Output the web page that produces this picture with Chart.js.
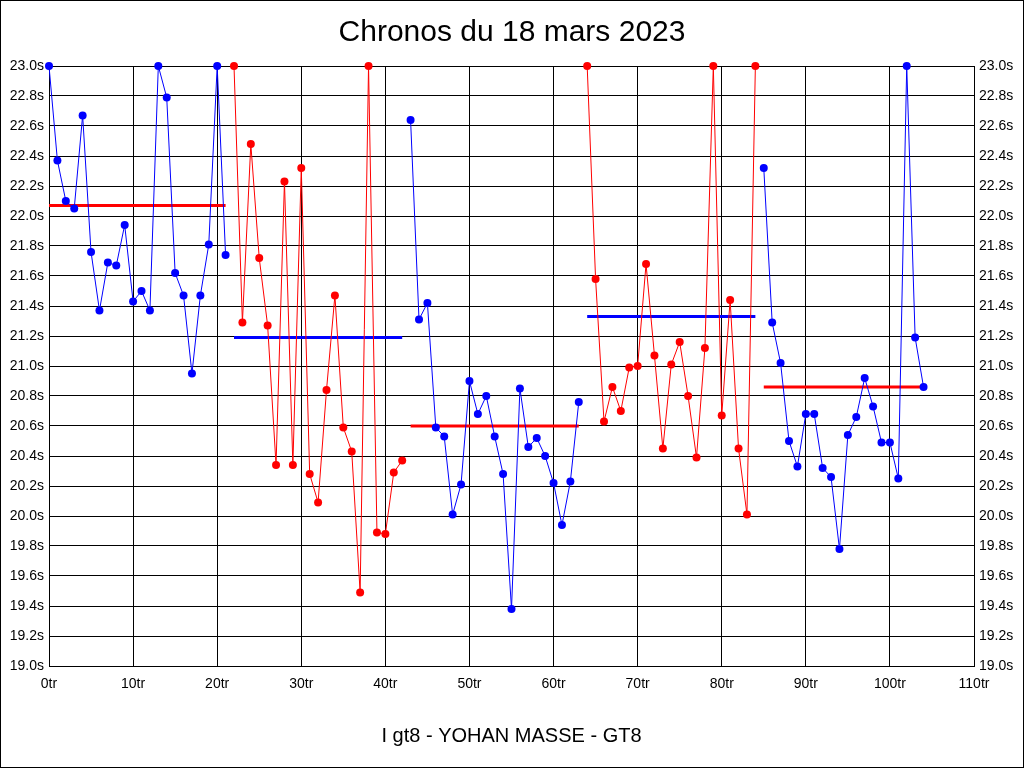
<!DOCTYPE html>
<html>
<head>
<meta charset="utf-8">
<title>Chronos du 18 mars 2023</title>
<script src="https://cdn.jsdelivr.net/npm/chart.js@4.4.1/dist/chart.umd.min.js"></script>
<style>
    html, body { margin: 0; padding: 0; background: #fff; }
    #frame { width: 1022px; height: 766px; border: 1px solid #000; }
</style>
</head>
<body>
<div id="frame"><canvas id="chronos" width="1022" height="766"></canvas></div>
<script>
// Lap times (seconds), one array per stint
const stintStartLaps = [0, 22, 43, 64, 85];
const stint1Times = [23.00, 22.37, 22.10, 22.05, 22.67, 21.76, 21.37, 21.69, 21.67, 21.94, 21.43,
    21.50, 21.37, 23.00, 22.79, 21.62, 21.47, 20.95, 21.47, 21.81, 23.00, 21.74];
const stint2Times = [23.00, 21.29, 22.48, 21.72, 21.27, 20.34, 22.23, 20.34, 22.32, 20.28, 20.09,
    20.84, 21.47, 20.59, 20.43, 19.49, 23.00, 19.89, 19.88, 20.29, 20.37];
const stint3Times = [22.64, 21.31, 21.42, 20.59, 20.53, 20.01, 20.21, 20.90, 20.68, 20.80, 20.53,
    20.28, 19.38, 20.85, 20.46, 20.52, 20.40, 20.22, 19.94, 20.23, 20.76];
const stint4Times = [23.00, 21.58, 20.63, 20.86, 20.70, 20.99, 21.00, 21.68, 21.07, 20.45, 21.01,
    21.16, 20.80, 20.39, 21.12, 23.00, 20.67, 21.44, 20.45, 20.01, 23.00];
const stint5Times = [22.32, 21.29, 21.02, 20.50, 20.33, 20.68, 20.68, 20.32, 20.26, 19.78, 20.54,
    20.66, 20.92, 20.73, 20.49, 20.49, 20.25, 23.00, 21.19, 20.86];
const stintMeans = [22.07, 21.19, 20.60, 21.33, 20.86];

const stints = [stint1Times, stint2Times, stint3Times, stint4Times, stint5Times];
const BLUE = '#0000ff';
const RED = '#ff0000';
const FONT = "'Liberation Sans', Arial, sans-serif";

const datasets = [];

// lap time lines (drawn on top)
stints.forEach((times, i) => {
    const color = i % 2 === 0 ? BLUE : RED;
    datasets.push({
        data: times.map((t, j) => ({ x: stintStartLaps[i] + j, y: t })),
        borderColor: color,
        backgroundColor: color,
        borderWidth: 1,
        pointRadius: 4,
        pointBorderWidth: 0,
        tension: 0,
        clip: false,
        order: 1
    });
});

// mean line of each stint, in the other colour
stints.forEach((times, i) => {
    const color = i % 2 === 0 ? RED : BLUE;
    const first = stintStartLaps[i];
    const last = first + times.length - 1;
    datasets.push({
        data: [{ x: first, y: stintMeans[i] }, { x: last, y: stintMeans[i] }],
        borderColor: color,
        borderWidth: 3,
        pointRadius: 0,
        clip: false,
        order: 2
    });
});

const tickFont = { family: FONT, size: 14 };

new Chart(document.getElementById('chronos'), {
    type: 'line',
    data: { datasets: datasets },
    options: {
        responsive: false,
        animation: false,
        devicePixelRatio: 1,
        layout: { padding: 0 },
        plugins: {
            legend: { display: false },
            tooltip: { enabled: false },
            title: {
                display: true,
                text: 'Chronos du 18 mars 2023',
                color: '#000',
                font: { family: FONT, size: 30, weight: 'normal' },
                padding: { top: 14, bottom: 15 }
            }
        },
        scales: {
            x: {
                type: 'linear',
                min: 0,
                max: 110,
                grid: { color: '#000', lineWidth: 1, drawTicks: false },
                border: { color: '#000' },
                ticks: {
                    stepSize: 10,
                    color: '#000',
                    font: tickFont,
                    padding: 10,
                    maxRotation: 0,
                    callback: v => v + 'tr'
                },
                title: {
                    display: true,
                    text: 'I gt8 - YOHAN MASSE - GT8',
                    color: '#000',
                    font: { family: FONT, size: 20 },
                    padding: { top: 0, bottom: 19 }
                },
                afterFit: scale => { scale.height = 101; }
            },
            y: {
                position: 'left',
                min: 19,
                max: 23,
                grid: { color: '#000', lineWidth: 1, drawTicks: false },
                border: { color: '#000' },
                ticks: {
                    stepSize: 0.2,
                    color: '#000',
                    font: tickFont,
                    padding: 5,
                    callback: v => v.toFixed(1) + 's'
                },
                afterFit: scale => { scale.width = 48; }
            },
            y2: {
                position: 'right',
                min: 19,
                max: 23,
                grid: { drawOnChartArea: false, drawTicks: false },
                border: { color: '#000' },
                ticks: {
                    stepSize: 0.2,
                    color: '#000',
                    font: tickFont,
                    padding: 5,
                    callback: v => v.toFixed(1) + 's'
                },
                afterFit: scale => { scale.width = 49; }
            }
        }
    }
});
</script>
</body>
</html>
